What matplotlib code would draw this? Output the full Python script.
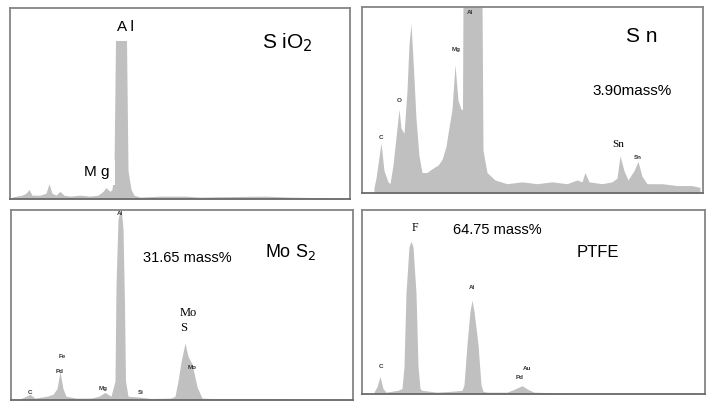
import matplotlib.pyplot as plt

plt.rcParams['font.family'] = ['Liberation Sans', 'DejaVu Sans']

# EDS spectra: channel number vs. relative counts (%)
sio2_ch = [2, 12, 16, 19, 22, 30, 36, 39, 42, 46, 50, 54, 60, 70, 80, 88, 93, 96, 100, 102,
           104, 105.5, 116.5, 118, 121, 124, 130, 150, 175, 190, 210, 255, 280, 300, 330, 338]
sio2_cts = [1, 2, 3, 5, 2, 2, 3, 8, 3, 2, 4, 2, 1.5, 2, 1.5, 2, 4, 6, 4, 5,
            15, 83, 83, 15, 5, 2, 1, 1.5, 1.5, 1, 1.2, 1.5, 1, 0.8, 0.5, 0.3]

sn_ch = [12, 14, 19, 22, 26, 28, 31, 34, 37, 39, 42, 45, 47, 49, 51, 54, 57, 60, 65, 70, 76,
         80, 84, 86, 90, 93, 96, 99, 100.5, 101, 120, 121, 125, 133, 145, 160, 175, 190,
         205, 215, 220, 223, 227, 240, 250, 255, 258, 262, 266, 272, 276, 280, 285, 300,
         315, 330, 338]
sn_cts = [3, 8, 27, 12, 6, 5, 15, 30, 45, 35, 32, 55, 80, 91, 72, 40, 20, 11, 11, 13, 15,
          18, 25, 32, 45, 69, 50, 45, 45, 105, 105, 23, 11, 7, 5, 6, 5, 6,
          5, 7, 6, 11, 6, 5, 6, 8, 20, 12, 7, 12, 17, 9, 5, 5,
          4, 4, 3]

mos2_ch = [9, 19, 24, 36, 42, 46, 49, 52, 55, 65, 80, 88, 94, 100, 104, 105, 107, 108.5,
           110.5, 112, 113.5, 114.5, 117, 129, 140, 160, 164, 167, 170, 174, 177, 181, 186,
           191, 200, 260, 330, 340]
mos2_cts = [0.5, 3, 1, 2, 3, 6, 15, 6, 2, 1, 1, 2, 4, 2, 10, 60, 95, 99,
            99, 90, 50, 10, 2, 1.5, 0.8, 1, 2, 10, 20, 30, 23, 19, 7,
            1, 0.8, 0.8, 0.5, 0.4]

ptfe_ch = [12, 15, 18, 21, 24, 30, 36, 40, 42, 44, 47, 49, 51, 54, 56, 58, 60, 75, 90,
           100, 102, 105, 108, 110, 112, 116, 119, 121, 125, 145, 152, 160, 166, 172, 200, 340]
ptfe_cts = [1, 4, 9.5, 3, 1, 1.5, 2, 3, 15, 55, 80, 83, 80, 55, 15, 3, 2, 1, 1.5,
            2, 5, 27, 45, 51, 45, 27, 5, 1.5, 1, 1, 2.5, 4.5, 2.5, 1, 0.5, 0.3]

FILL = '#c0c0c0'
EDGE = '#858585'
W, H = 710, 401

fig = plt.figure(figsize=(7.1, 4.01), dpi=100)


def panel(x0, x1, y0, y1, ch, cts):
    ax = fig.add_axes([x0 / W, 1 - y1 / H, (x1 - x0) / W, (y1 - y0) / H])
    ax.fill_between(ch, cts, 0, color=FILL, lw=0)
    ax.set_xlim(0, x1 - x0)
    ax.set_ylim(0, 100)
    ax.set_xticks([])
    ax.set_yticks([])
    for s in ax.spines.values():
        s.set_color(EDGE)
        s.set_linewidth(1.3)
    ax.spines['bottom'].set_color('#6a6a6a')
    return ax


def tiny(ax, x, y, s):
    ax.text(x, y, s, fontsize=4.5, fontweight='bold', color='#333333',
            ha='center', va='center')


white = dict(facecolor='white', edgecolor='none', pad=1.5)

# SiO2
ax1 = panel(10, 350, 8, 199, sio2_ch, sio2_cts)
ax1.text(115, 90, 'A l', fontsize=11, ha='center', va='center', bbox=white)
ax1.text(87, 14, 'M g', fontsize=11, ha='center', va='center',
         bbox=dict(facecolor='white', edgecolor='none', pad=4))
ax1.text(252, 82, 'S iO$_2$', fontsize=15, ha='left', va='center')

# Sn
ax2 = panel(362, 703, 7, 193, sn_ch, sn_cts)
ax2.text(280, 84, 'S n', fontsize=15, ha='center', va='center')
ax2.text(270, 55, '3.90mass%', fontsize=11, ha='center', va='center')
ax2.text(256, 26, 'Sn', fontsize=8, family='Liberation Serif', ha='center',
         va='center', bbox=dict(facecolor='white', edgecolor='none', pad=3))
tiny(ax2, 19, 30, 'C')
tiny(ax2, 37, 50, 'O')
tiny(ax2, 94, 77, 'Mg')
tiny(ax2, 108, 97, 'Al')
tiny(ax2, 276, 19, 'Sn')

# MoS2
ax3 = panel(11, 353, 210, 400, mos2_ch, mos2_cts)
ax3.text(279, 78, 'Mo S$_2$', fontsize=13, ha='center', va='center')
ax3.text(176, 75, '31.65 mass%', fontsize=10.5, ha='center', va='center')
ax3.text(169, 46, 'Mo', fontsize=9, family='Liberation Serif', ha='left', va='center')
ax3.text(169, 38, 'S', fontsize=9, family='Liberation Serif', ha='left', va='center')
tiny(ax3, 19, 4, 'C')
tiny(ax3, 51, 23, 'Fe')
tiny(ax3, 49, 15, 'Pd')
tiny(ax3, 92, 6, 'Mg')
tiny(ax3, 130, 4, 'Si')
tiny(ax3, 181, 17, 'Mo')
tiny(ax3, 109, 98, 'Al')

# PTFE
ax4 = panel(362, 705, 210, 394, ptfe_ch, ptfe_cts)
ax4.text(53, 90, 'F', fontsize=8.5, family='Liberation Serif', ha='center', va='center')
ax4.text(135, 89, '64.75 mass%', fontsize=10.5, ha='center', va='center')
ax4.text(236, 77, 'PTFE', fontsize=12, ha='center', va='center')
tiny(ax4, 19, 15, 'C')
tiny(ax4, 110, 58, 'Al')
tiny(ax4, 165, 14, 'Au')
tiny(ax4, 158, 9, 'Pd')

fig.savefig('out.png', dpi=100)
